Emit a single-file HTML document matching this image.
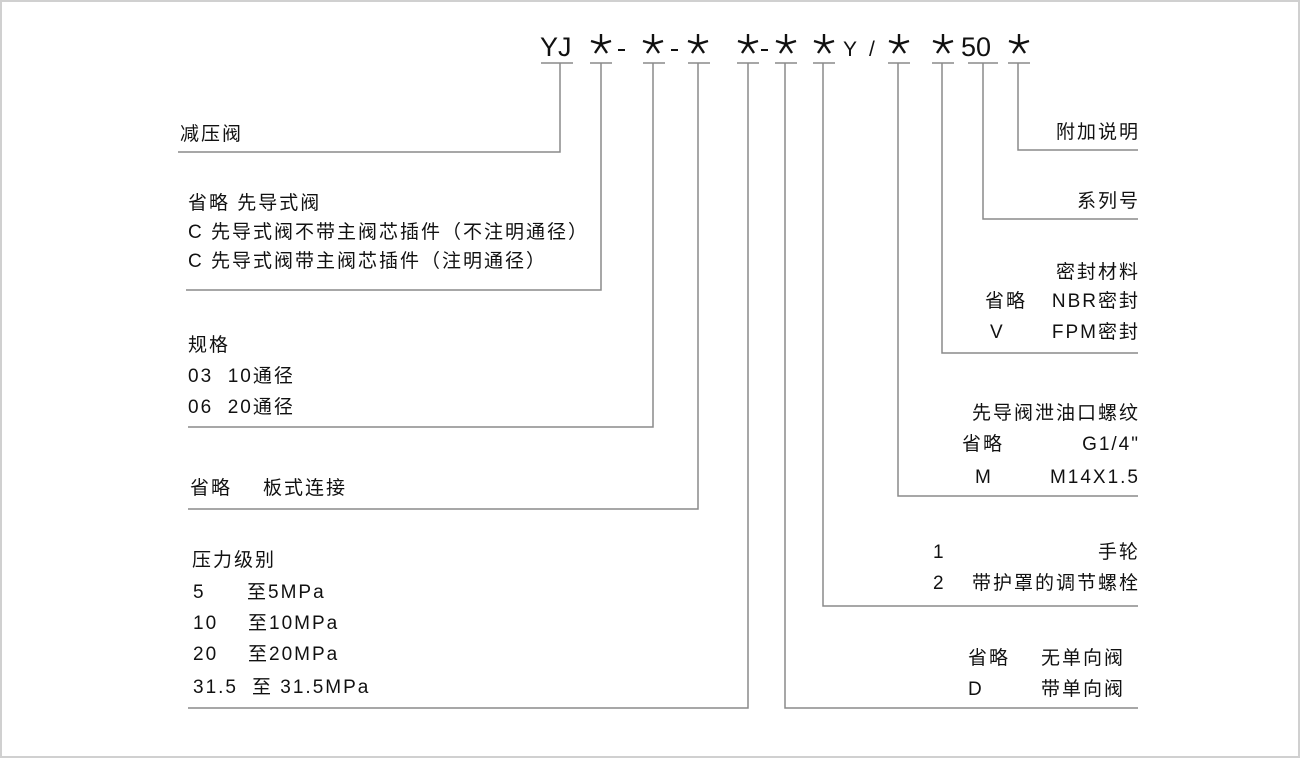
<!DOCTYPE html>
<html><head><meta charset="utf-8"><style>
html,body{margin:0;padding:0;background:#fff}
#c{position:relative;width:1300px;height:758px;overflow:hidden;box-shadow:inset 0 0 0 2px #d0d0d0;background:#fff}
.t{position:absolute;font-family:"Liberation Sans","Noto Sans CJK SC",sans-serif;font-size:19px;line-height:22px;letter-spacing:2px;color:#111;white-space:nowrap}
.r{text-align:right}
.k{position:absolute;font-family:"Liberation Sans","Noto Sans CJK SC",sans-serif;font-size:27px;line-height:30px;color:#111;white-space:nowrap}
svg{position:absolute;left:0;top:0}
</style></head><body><div id="c">
<svg width="1300" height="758" viewBox="0 0 1300 758">
<defs>
<g id="ast" stroke="#111" stroke-width="2.4" stroke-linecap="butt" fill="none">
<line x1="0" y1="-1" x2="0" y2="-11"/>
<line x1="0" y1="-1" x2="-10" y2="-4"/>
<line x1="0" y1="-1" x2="10" y2="-4"/>
<line x1="0" y1="-1" x2="-6" y2="8"/>
<line x1="0" y1="-1" x2="6" y2="8"/>
</g>
</defs>
<use href="#ast" x="601" y="45"/>
<use href="#ast" x="653" y="45"/>
<use href="#ast" x="698" y="45"/>
<use href="#ast" x="748" y="45"/>
<use href="#ast" x="786" y="45"/>
<use href="#ast" x="824" y="45"/>
<use href="#ast" x="899" y="45"/>
<use href="#ast" x="943" y="45"/>
<use href="#ast" x="1019" y="45"/>
<g stroke="#111" stroke-width="2">
<line x1="618" y1="50" x2="625" y2="50"/>
<line x1="671" y1="50" x2="678" y2="50"/>
<line x1="761" y1="50" x2="768" y2="50"/>
</g>
<g stroke="#8a8a8a" stroke-width="1.5" fill="none">
<line x1="541" y1="63" x2="573" y2="63"/>
<line x1="590" y1="63" x2="612" y2="63"/>
<line x1="643" y1="63" x2="665" y2="63"/>
<line x1="688" y1="63" x2="710" y2="63"/>
<line x1="737" y1="63" x2="759" y2="63"/>
<line x1="775" y1="63" x2="797" y2="63"/>
<line x1="813" y1="63" x2="835" y2="63"/>
<line x1="888" y1="63" x2="910" y2="63"/>
<line x1="932" y1="63" x2="954" y2="63"/>
<line x1="968" y1="63" x2="998" y2="63"/>
<line x1="1008" y1="63" x2="1030" y2="63"/>
<polyline points="560,63 560,152 178,152"/>
<polyline points="601,63 601,290 186,290"/>
<polyline points="653,63 653,427 188,427"/>
<polyline points="698,63 698,509 188,509"/>
<polyline points="748,63 748,708 188,708"/>
<polyline points="785,63 785,708 1138,708"/>
<polyline points="823,63 823,606 1138,606"/>
<polyline points="898,63 898,496 1138,496"/>
<polyline points="942,63 942,353 1138,353"/>
<polyline points="983,63 983,219 1138,219"/>
<polyline points="1018,63 1018,150 1138,150"/>
</g></svg>
<div class="k" style="left:540px;top:32px">YJ</div>
<div class="k" style="left:843px;top:35px;font-size:21px">Y</div>
<div class="k" style="left:869px;top:35px;font-size:21px">/</div>
<div class="k" style="left:961px;top:32px">50</div>

<div class="t" style="left:180px;top:124px">减压阀</div>
<div class="t" style="left:188px;top:193px">省略 先导式阀</div>
<div class="t" style="left:188px;top:222px">C 先导式阀不带主阀芯插件（不注明通径）</div>
<div class="t" style="left:188px;top:251px">C 先导式阀带主阀芯插件（注明通径）</div>
<div class="t" style="left:188px;top:335px">规格</div>
<div class="t" style="left:188px;top:366px">03&nbsp; 10通径</div>
<div class="t" style="left:188px;top:397px">06&nbsp; 20通径</div>
<div class="t" style="left:190px;top:478px">省略</div>
<div class="t" style="left:263px;top:478px">板式连接</div>
<div class="t" style="left:192px;top:550px">压力级别</div>
<div class="t" style="left:193px;top:582px">5</div><div class="t" style="left:247px;top:582px">至5MPa</div>
<div class="t" style="left:193px;top:613px">10</div><div class="t" style="left:248px;top:613px">至10MPa</div>
<div class="t" style="left:193px;top:644px">20</div><div class="t" style="left:248px;top:644px">至20MPa</div>
<div class="t" style="left:193px;top:677px">31.5</div><div class="t" style="left:252px;top:677px">至 31.5MPa</div>

<div class="t r" style="right:160px;top:122px">附加说明</div>
<div class="t r" style="right:160px;top:191px">系列号</div>
<div class="t r" style="right:160px;top:262px">密封材料</div>
<div class="t" style="left:985px;top:291px">省略</div><div class="t r" style="right:160px;top:291px">NBR密封</div>
<div class="t" style="left:990px;top:322px">V</div><div class="t r" style="right:160px;top:322px">FPM密封</div>
<div class="t r" style="right:160px;top:403px">先导阀泄油口螺纹</div>
<div class="t" style="left:962px;top:434px">省略</div><div class="t r" style="right:160px;top:434px">G1/4"</div>
<div class="t" style="left:975px;top:467px">M</div><div class="t r" style="right:160px;top:467px">M14X1.5</div>
<div class="t" style="left:933px;top:542px">1</div><div class="t r" style="right:160px;top:542px">手轮</div>
<div class="t" style="left:933px;top:573px">2</div><div class="t r" style="right:160px;top:573px">带护罩的调节螺栓</div>
<div class="t" style="left:968px;top:648px">省略</div><div class="t" style="left:1041px;top:648px">无单向阀</div>
<div class="t" style="left:968px;top:679px">D</div><div class="t" style="left:1041px;top:679px">带单向阀</div>
</div></body></html>
